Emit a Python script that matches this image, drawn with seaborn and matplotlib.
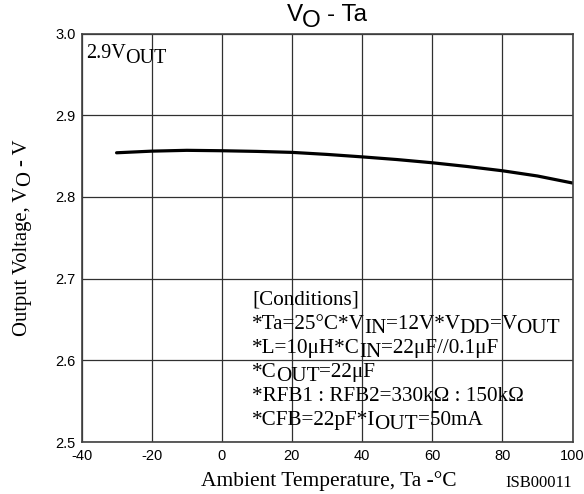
import matplotlib
matplotlib.use("Agg")
import matplotlib.pyplot as plt
from matplotlib.font_manager import FontProperties
import seaborn as sns
import pandas as pd

# ---- data ----
temps = [-30, -20, -10, 0, 10, 20, 30, 40, 50, 60, 70, 80, 90, 100]
vout = [2.854, 2.856, 2.857, 2.8565, 2.8557, 2.8545, 2.852, 2.849,
        2.8457, 2.8418, 2.8372, 2.832, 2.8256, 2.817]
xticks = [-40, -20, 0, 20, 40, 60, 80, 100]
yticks = [2.5, 2.6, 2.7, 2.8, 2.9, 3.0]
ytick_labels = ["2.5", "2.6", "2.7", "2.8", "2.9", "3.0"]

title_segs = [("V", False), ("O", True), (" - Ta", False)]
ylabel_segs = [("Output Voltage, V", False), ("O", True), (" - V", False)]
xlabel_text = "Ambient Temperature, Ta -°C"
corner_segs = [("2.9V", False), ("OUT", True)]
doc_code = "ISB00011"
cond_lines = [
    [("[Conditions]", False)],
    [("*Ta=25°C*V", False), ("IN", True), ("=12V*V", False), ("DD", True),
     ("=V", False), ("OUT", True)],
    [("*L=10μH*C", False), ("IN", True), ("=22μF//0.1μF", False)],
    [("*C", False), ("OUT", True), ("=22μF", False)],
    [("*RFB1 : RFB2=330kΩ : 150kΩ", False)],
    [("*CFB=22pF*I", False), ("OUT", True), ("=50mA", False)],
]

SERIF = "Liberation Serif"
SANS = "Liberation Sans"

W, H, DPI = 584, 494, 100
sns.set_theme(style="white")
plt.rcParams["font.family"] = [SANS, "DejaVu Sans"]

fig = plt.figure(figsize=(W / DPI, H / DPI), dpi=DPI)
L, R, T, B = 81.5, 572.5, 33.5, 442.0
ax = fig.add_axes([L / W, 1 - B / H, (R - L) / W, (B - T) / H])

df = pd.DataFrame({"Ta": temps, "Vo": vout})
sns.lineplot(data=df, x="Ta", y="Vo", ax=ax, color="black", linewidth=2.3)

ax.set_xlim(-40, 100)
ax.set_ylim(2.5, 3.0)
ax.set_xticks(xticks)
ax.set_xticklabels([str(v) for v in xticks])
ax.set_yticks(yticks)
ax.set_yticklabels(ytick_labels)
ax.tick_params(axis="both", length=0, labelsize=10.5, colors="black")
ax.tick_params(axis="x", pad=5)
ax.tick_params(axis="y", pad=4.3)
for lab in ax.get_xticklabels() + ax.get_yticklabels():
    lab.set_family(SANS)
ax.grid(True, color="#303030", linewidth=0.9)
for s in ax.spines.values():
    s.set_visible(True)
    s.set_color("#404040")
    s.set_linewidth(1.2)
ax.set_xlabel("")
ax.set_ylabel("")

fig.canvas.draw()
renderer = fig.canvas.get_renderer()


def adv(s, fp):
    w1 = renderer.get_text_width_height_descent("|" + s + "|", fp, False)[0]
    w0 = renderer.get_text_width_height_descent("||", fp, False)[0]
    return w1 - w0


KERN = 1.0


def total(segs, fp, kern):
    n_sub = sum(1 for _, s in segs if s)
    return sum(adv(t, fp) for t, _ in segs) - kern * n_sub


def rich(x, y, segs, size, family, drop, vertical=False):
    fp = FontProperties(family=family, size=size)
    kern = 0.0 if vertical else KERN
    prev_sub = None
    for text, sub in segs:
        if prev_sub is False and sub:
            x -= kern
        stripped = text.lstrip(" ")
        lead = text[: len(text) - len(stripped)]
        if lead:
            if vertical:
                y -= adv(lead, fp)
            else:
                x += adv(lead, fp)
        d = drop if sub else 0
        if vertical:
            fig.text((x + d) / W, 1 - y / H, stripped, fontproperties=fp,
                     rotation=90, rotation_mode="anchor", ha="left",
                     va="baseline", color="black")
            y -= adv(stripped, fp)
        else:
            fig.text(x / W, 1 - (y + d) / H, stripped, fontproperties=fp,
                     ha="left", va="baseline", color="black")
            x += adv(stripped, fp)
        prev_sub = sub


cx = (L + R) / 2
cy = (T + B) / 2

# title
fp_t = FontProperties(family=SANS, size=17.5)
rich(cx - total(title_segs, fp_t, KERN) / 2, 21, title_segs, 17.5, SANS, 6)

# y label (vertical)
fp_y = FontProperties(family=SERIF, size=14.9)
rich(27, cy + total(ylabel_segs, fp_y, 0.0) / 2, ylabel_segs, 14.9, SERIF, 3,
     vertical=True)

# x label
fig.text(329 / W, 1 - 486 / H, xlabel_text, family=SERIF, fontsize=15.5,
         ha="center", va="baseline", color="black")

# doc code
fig.text(505 / W, 1 - 487 / H, doc_code, family=SERIF, fontsize=12,
         ha="left", va="baseline", color="black")

# corner label
rich(86, 58, corner_segs, 14.5, SERIF, 5)

# conditions block
for i, segs in enumerate(cond_lines):
    rich(252, 305 + 24 * i, segs, 15.2, SERIF, 4)

fig.savefig("out.png", dpi=DPI)
